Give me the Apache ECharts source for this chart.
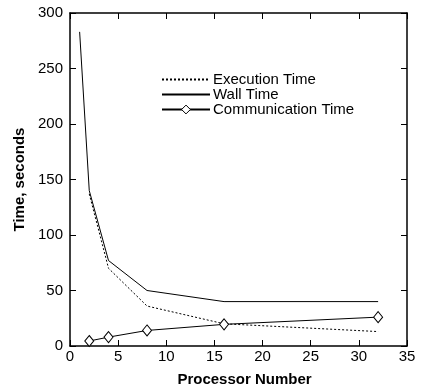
<!DOCTYPE html>
<html><head><meta charset="utf-8">
<script src="https://cdn.jsdelivr.net/npm/echarts@6/dist/echarts.min.js"></script>
<style>html,body{margin:0;padding:0;background:#fff}#c{width:422px;height:392px}</style>
</head><body><div id="c"></div>
<script>
const wallX = [1, 2, 4, 8, 16, 32];
const wallY = [283, 140, 77, 50, 40, 40];
const execX = [2, 4, 8, 16, 32];
const execY = [137, 70, 36, 20, 13];
const commX = [2, 4, 8, 16, 32];
const commY = [4.5, 8, 14, 19.5, 26];
const seriesNames = ['Execution Time', 'Wall Time', 'Communication Time'];
const xTitle = 'Processor Number';
const yTitle = 'Time, seconds';

const zip = (a, b) => a.map((v, i) => [v, b[i]]);
const font = 'Liberation Sans, Arial, sans-serif';
const axisLine = {show: true, onZero: false, lineStyle: {color: '#000', width: 1.5}};
const tick = {show: true, inside: true, length: 6, lineStyle: {color: '#000', width: 1}};
const noSym = {color: 'rgba(0,0,0,0)', borderWidth: 0, opacity: 0};

const chart = echarts.init(document.getElementById('c'), null, {renderer: 'canvas'});
chart.setOption({
  animation: false,
  backgroundColor: '#fff',
  grid: {left: 70, top: 13, right: 15, bottom: 44, containLabel: false},
  legend: {
    orient: 'vertical', left: 161, top: 72, padding: 0, itemWidth: 48, itemHeight: 11, itemGap: 0,
    data: [
      {name: seriesNames[0], itemStyle: noSym},
      {name: seriesNames[1], itemStyle: noSym},
      {name: seriesNames[2], itemStyle: {borderWidth: 1}}
    ],
    textStyle: {fontFamily: font, fontSize: 15, color: '#000', lineHeight: 15, padding: [0, 0, 0, -2]}
  },
  xAxis: [{
    type: 'value', min: 0, max: 35, interval: 5, position: 'bottom',
    name: xTitle, nameLocation: 'middle', nameGap: 26,
    nameTextStyle: {fontFamily: font, fontSize: 15, fontWeight: 'bold', color: '#000', padding: [0, 0, 0, 12]},
    axisLine: axisLine, axisTick: tick, splitLine: {show: false},
    axisLabel: {fontFamily: font, fontSize: 15, color: '#000', margin: 3}
  }, {
    type: 'value', min: 0, max: 35, interval: 5, position: 'top',
    axisLine: axisLine, axisTick: tick, splitLine: {show: false}, axisLabel: {show: false}
  }],
  yAxis: [{
    type: 'value', min: 0, max: 300, interval: 50, position: 'left',
    name: yTitle, nameLocation: 'middle', nameGap: 36, nameRotate: 90,
    nameTextStyle: {fontFamily: font, fontSize: 15, fontWeight: 'bold', color: '#000', padding: [0, 0, 0, 0]},
    axisLine: axisLine, axisTick: tick, splitLine: {show: false},
    axisLabel: {fontFamily: font, fontSize: 15, color: '#000', margin: 7}
  }, {
    type: 'value', min: 0, max: 300, interval: 50, position: 'right',
    axisLine: axisLine, axisTick: tick, splitLine: {show: false}, axisLabel: {show: false}
  }],
  series: [{
    name: seriesNames[0], type: 'line', data: zip(execX, execY), symbol: 'none',
    lineStyle: {color: '#000', width: 1, type: [2, 2]}, itemStyle: {color: '#000'}
  }, {
    name: seriesNames[1], type: 'line', data: zip(wallX, wallY), symbol: 'none',
    lineStyle: {color: '#000', width: 1}, itemStyle: {color: '#000'}
  }, {
    name: seriesNames[2], type: 'line', data: zip(commX, commY), symbol: 'diamond', symbolSize: [9, 11],
    lineStyle: {color: '#000', width: 1},
    itemStyle: {color: '#fff', borderColor: '#000', borderWidth: 1}
  }]
});
</script></body></html>
